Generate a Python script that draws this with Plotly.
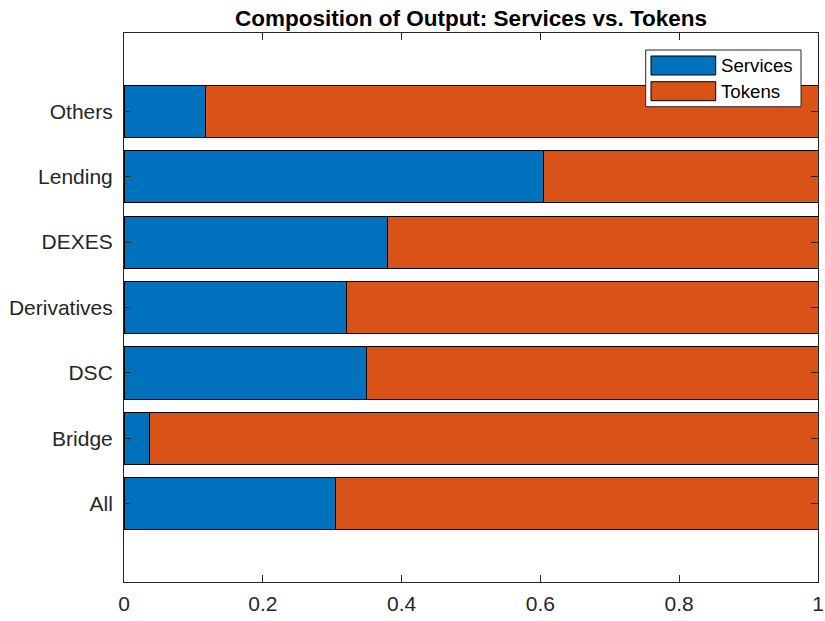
import plotly.graph_objects as go

categories = ["All", "Bridge", "DSC", "Derivatives", "DEXES", "Lending", "Others"]
services = [0.305, 0.037, 0.350, 0.321, 0.380, 0.605, 0.117]
tokens = [round(1 - s, 3) for s in services]
xticks = [0, 0.2, 0.4, 0.6, 0.8, 1]
xticklabels = ["0", "0.2", "0.4", "0.6", "0.8", "1"]

BLUE = "#0072BD"
ORANGE = "#D95319"
AXC = "#262626"
FONT = "Liberation Sans, Arial, Helvetica, sans-serif"

W, H = 825, 621
L, R, T, B = 124, 7, 33, 39

fig = go.Figure()
fig.add_trace(go.Bar(y=categories, x=services, orientation="h", name="Services",
                     hoverinfo="skip",
                     marker=dict(color=BLUE, line=dict(color="black", width=1))))
fig.add_trace(go.Bar(y=categories, x=tokens, orientation="h", name="Tokens",
                     hoverinfo="skip",
                     marker=dict(color=ORANGE, line=dict(color="black", width=1))))

fig.update_layout(
    width=W, height=H,
    barmode="stack", bargap=0.2,
    plot_bgcolor="white", paper_bgcolor="white",
    margin=dict(l=L, r=R, t=T, b=B, pad=0, autoexpand=False),
    showlegend=False,
    font=dict(family=FONT, color=AXC, size=21),
    title=dict(text="<b>Composition of Output: Services vs. Tokens</b>",
               x=0.5, xref="paper", y=1 - 18 / H, yref="container",
               xanchor="center", yanchor="middle",
               font=dict(family=FONT, size=22.5, color="black")),
)
fig.update_xaxes(range=[0, 1], tickvals=xticks, ticktext=xticklabels, automargin=False,
                 showgrid=False, zeroline=False, showline=True, linecolor=AXC, linewidth=1,
                 mirror="ticks", ticks="inside", ticklen=7, tickcolor=AXC, tickwidth=1,
                 tickfont=dict(size=21, color=AXC), ticklabelstandoff=3,
                 ticklabeloverflow="allow")
fig.update_yaxes(type="category", categoryorder="array", categoryarray=categories,
                 range=[-1.2, 7.2], automargin=False,
                 showgrid=False, zeroline=False, showline=True, linecolor=AXC, linewidth=1,
                 mirror="ticks", ticks="inside", ticklen=7, tickcolor=AXC, tickwidth=1,
                 tickfont=dict(size=21, color=AXC), ticklabelstandoff=6,
                 ticklabeloverflow="allow")

# legend drawn in paper coordinates (MATLAB-style wide swatches)
PW = W - L - R
PH = H - T - B

def px(x):
    return (x - L) / PW

def py(y):
    return (H - B - y) / PH

fig.add_shape(type="rect", xref="paper", yref="paper",
              x0=px(645.7), x1=px(801), y0=py(106.7), y1=py(50),
              fillcolor="white", line=dict(color=AXC, width=1))
legend_items = [("Services", BLUE, 56, 75), ("Tokens", ORANGE, 81.7, 100.7)]
for name, col, top, bot in legend_items:
    fig.add_shape(type="rect", xref="paper", yref="paper",
                  x0=px(651), x1=px(715.7), y0=py(bot), y1=py(top),
                  fillcolor=col, line=dict(color="black", width=1))
    fig.add_annotation(xref="paper", yref="paper", x=px(718.5), y=py((top + bot) / 2),
                       text=name, showarrow=False, xanchor="left", yanchor="middle",
                       font=dict(family=FONT, size=18.7, color="black"))

fig.write_html("out.html",
               config={"displayModeBar": False},
               post_script="document.body.style.margin='0';"
                           "document.documentElement.style.overflow='hidden';")
